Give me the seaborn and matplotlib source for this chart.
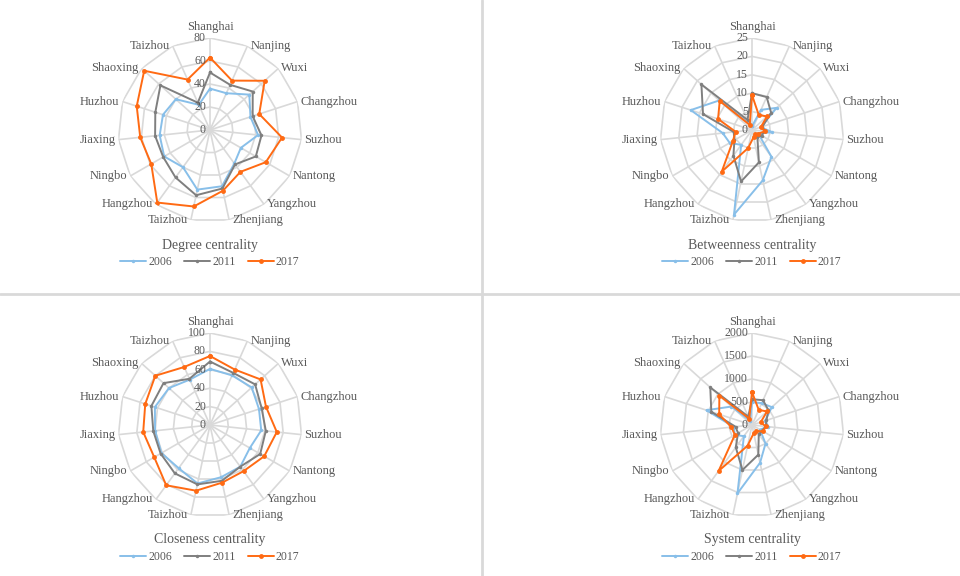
import numpy as np
import pandas as pd
import matplotlib
matplotlib.use("Agg")
import matplotlib.pyplot as plt
from matplotlib.lines import Line2D
from matplotlib.transforms import offset_copy
import seaborn as sns

cities = ["Shanghai", "Nanjing", "Wuxi", "Changzhou", "Suzhou", "Nantong", "Yangzhou",
          "Zhenjiang", "Taizhou", "Hangzhou", "Ningbo", "Jiaxing", "Huzhou", "Shaoxing", "Taizhou"]
years = ["2006", "2011", "2017"]

degree_2006 = [36, 35, 46, 37, 42, 31, 36, 50, 53, 40, 46, 44, 43, 40, 24]
degree_2011 = [50, 43, 50, 39, 45, 46, 37, 52, 58, 51, 47, 48, 50, 58, 26]
degree_2017 = [63, 47, 64, 45, 63, 56, 45, 54, 68, 78, 59, 61, 67, 77, 48]

betweenness_2006 = [1, 6, 9, 2.5, 5.5, 2, 9, 14, 23.5, 5, 7, 8, 17.5, 12, 2]
betweenness_2011 = [10, 9.8, 7, 3, 3.5, 3, 2.5, 9, 14.3, 8.6, 5.5, 5, 14, 18.5, 3]
betweenness_2017 = [9.5, 4.5, 5.5, 2.5, 3.5, 2, 1.5, 2, 5, 14, 6, 4.5, 9.7, 11.8, 1.5]

closeness_2006 = [61, 59, 61, 56, 56, 50, 56, 58, 65, 58, 61, 60, 63, 60, 54]
closeness_2011 = [69, 62, 66, 59, 61, 63, 56, 62, 66, 65, 62, 62, 67, 68, 55]
closeness_2017 = [75, 66, 74, 64, 73, 68, 62, 64, 73, 81, 70, 73, 74, 80, 69]

system_2006 = [500, 520, 580, 300, 360, 200, 500, 840, 1520, 300, 430, 400, 1040, 600, 100]
system_2011 = [560, 590, 480, 330, 300, 250, 250, 660, 1000, 600, 350, 360, 930, 1220, 200]
system_2017 = [715, 360, 440, 200, 300, 280, 160, 180, 460, 1235, 430, 450, 750, 955, 150]

colors = {"2006": "#88bfe9", "2011": "#7f7f7f", "2017": "#ff6a13"}
msizes = {"2006": 2.5, "2011": 2.5, "2017": 3.5}
GRID = "#d9d9d9"
TEXT = "#595959"

sns.set_theme(style="white")
plt.rcParams["font.family"] = ["Liberation Serif", "DejaVu Serif"]

fig = plt.figure(figsize=(9.6, 5.76), dpi=100)
W, H = 960, 576
R = 92


def draw_radar(cx, cy, series, ticks, title):
    ax = fig.add_axes([(cx - R) / W, 1 - (cy + R) / H, 2 * R / W, 2 * R / H], projection="polar")
    ax.set_theta_zero_location("N")
    ax.set_theta_direction(-1)
    n = len(cities)
    theta = np.arange(n) * 2 * np.pi / n
    rmax = ticks[-1]

    # excel style polygon grid
    ax.set_xticks(theta)
    ax.set_xticklabels([])
    ax.set_yticks([])
    ax.xaxis.grid(True, color=GRID, lw=1.2)
    ax.yaxis.grid(False)
    ax.spines["polar"].set_visible(False)
    closed = np.append(theta, theta[0])
    for r in ticks[1:]:
        ax.plot(closed, [r] * (n + 1), color=GRID, lw=1.2, zorder=1)

    for year, vals in zip(years, series):
        df = pd.DataFrame({"theta": closed, "value": list(vals) + [vals[0]]})
        sns.lineplot(data=df, x="theta", y="value", sort=False, estimator=None, ax=ax,
                     color=colors[year], lw=1.4, marker="o", markersize=msizes[year],
                     markeredgewidth=0, zorder=3)
    ax.set_ylim(0, rmax)
    ax.set_xlabel("")
    ax.set_ylabel("")

    left = offset_copy(ax.transData, fig=fig, x=-4, y=0, units="dots")
    for r in ticks:
        ax.text(0, r, f"{r:g}", transform=left, ha="right", va="center",
                fontsize=8.5, color=TEXT, zorder=4)

    for i, name in enumerate(cities):
        s = np.sin(theta[i])
        if i == 0:
            tr = offset_copy(ax.transData, fig=fig, x=0, y=5, units="dots")
            ax.text(theta[i], rmax, name, transform=tr, ha="center", va="bottom",
                    fontsize=9, color=TEXT)
        else:
            dx = 3 if s > 0 else -3
            tr = offset_copy(ax.transData, fig=fig, x=dx, y=0, units="dots")
            ax.text(theta[i], rmax, name, transform=tr, ha="left" if s > 0 else "right",
                    va="center", fontsize=9, color=TEXT)

    fig.text(cx / W, 1 - (cy + 115) / H, title, ha="center", va="center",
             fontsize=10, color=TEXT)
    handles = [Line2D([], [], color=colors[y], lw=1.4, marker="o", markersize=msizes[y],
                      markeredgewidth=0) for y in years]
    fig.legend(handles, years, loc="center", bbox_to_anchor=(cx / W, 1 - (cy + 132) / H),
               ncol=3, frameon=False, fontsize=8.5, handlelength=2.2, handletextpad=0.2,
               columnspacing=1.0, labelcolor=TEXT)


draw_radar(210, 130, [degree_2006, degree_2011, degree_2017], [0, 20, 40, 60, 80], "Degree centrality")
draw_radar(752, 130, [betweenness_2006, betweenness_2011, betweenness_2017], [0, 5, 10, 15, 20, 25],
           "Betweenness centrality")
draw_radar(210, 425, [closeness_2006, closeness_2011, closeness_2017], [0, 20, 40, 60, 80, 100],
           "Closeness centrality")
draw_radar(752, 425, [system_2006, system_2011, system_2017], [0, 500, 1000, 1500, 2000],
           "System centrality")

# panel separators
fig.add_artist(Line2D([482 / W, 482 / W], [0, 1], color="#d9d9d9", lw=2))
fig.add_artist(Line2D([0, 1], [1 - 294 / H, 1 - 294 / H], color="#d9d9d9", lw=2))

fig.savefig("out.png", dpi=100)
